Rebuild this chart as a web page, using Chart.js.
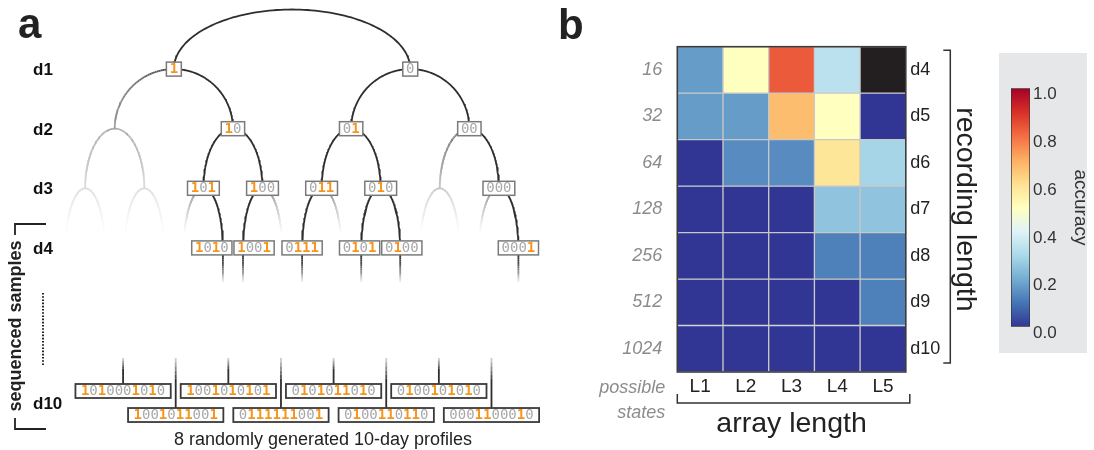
<!DOCTYPE html>
<html>
<head>
<meta charset="utf-8">
<script src="https://cdn.jsdelivr.net/npm/chart.js@4.4.1/dist/chart.umd.min.js"></script>
<style>
  html, body { margin: 0; padding: 0; background: #fff; }
  #wrap { position: relative; width: 1094px; height: 450px; overflow: hidden; }
  canvas { position: absolute; }
  #treeCanvas { left: 0; top: 0; }
  #heatCanvas { left: 540px; top: 0; }
  #barCanvas { left: 999px; top: 53px; }
</style>
</head>
<body>
<div id="wrap">
  <canvas id="treeCanvas" width="540" height="450"></canvas>
  <canvas id="heatCanvas" width="554" height="450"></canvas>
  <canvas id="barCanvas" width="95" height="300"></canvas>
</div>
<script>
// ---------------- data ----------------
// Panel a: sampled 10-day binary profiles (left to right, alternating rows)
const sampledProfiles = [
  '1010001010', '1001011001', '1001010101', '0111111001',
  '0101011010', '0100110110', '0100101010', '0001100010'
];
const depthLabels = ['d1', 'd2', 'd3', 'd4'];
const finalDepthLabel = 'd10';
const profileCaption = '8 randomly generated 10-day profiles';
const samplesLabel = 'sequenced samples';

// Panel b: accuracy per recording length (rows) and array length (columns)
const arrayLengths = ['L1', 'L2', 'L3', 'L4', 'L5'];
const recordingLengths = ['d4', 'd5', 'd6', 'd7', 'd8', 'd9', 'd10'];
const possibleStates = ['16', '32', '64', '128', '256', '512', '1024'];
const accuracyD4  = [0.17, 0.50, 0.83, 0.33, null];
const accuracyD5  = [0.17, 0.17, 0.67, 0.50, 0.00];
const accuracyD6  = [0.00, 0.14, 0.14, 0.58, 0.29];
const accuracyD7  = [0.00, 0.00, 0.00, 0.25, 0.25];
const accuracyD8  = [0.00, 0.00, 0.00, 0.12, 0.12];
const accuracyD9  = [0.00, 0.00, 0.00, 0.00, 0.12];
const accuracyD10 = [0.00, 0.00, 0.00, 0.00, 0.00];
const accuracyRange = [0, 1];

// ---------------- styling ----------------
const FONT = "'Liberation Sans', Arial, sans-serif";
const MONO = "'DejaVu Sans Mono', monospace";
const INK = '#2e2e2e';
const ONE_COLOR = '#f7941d';
const ZERO_COLOR = '#a8a8a8';
Chart.defaults.font.family = FONT;

// RdYlBu reversed colour scale
const scaleColors = ['#313695', '#4575b4', '#74add1', '#abd9e9', '#e0f3f8', '#ffffbf',
                     '#fee090', '#fdae61', '#f46d43', '#d73027', '#a50026'];
function hexRgb(h) { return [1, 3, 5].map(i => parseInt(h.slice(i, i + 2), 16)); }
function accuracyColor(v) {
  if (v === null) return '#231f20';
  const t = Math.max(0, Math.min(1, v)) * (scaleColors.length - 1);
  const i = Math.min(Math.floor(t), scaleColors.length - 2);
  const f = t - i;
  const a = hexRgb(scaleColors[i]), b = hexRgb(scaleColors[i + 1]);
  const c = a.map((x, k) => Math.round(x + (b[k] - x) * f));
  return `rgb(${c[0]},${c[1]},${c[2]})`;
}

// ---------------- panel a: recording tree ----------------
const TREE_DEPTH = 4;
const FADE_END = 3.85;                // depth where unsampled branches vanish
const FADE_CURVE = 0.6;
const CHILD_SPREAD = 0.33;            // half gap between sibling leaves at depth 4
const flippedBranches = ['000'];      // branch drawn with its children swapped
const X_ORIGIN = 85.2, X_UNIT = 59.1; // canvas mapping of the tree x axis
const Y_ORIGIN = 9.5, Y_UNIT = 59.6;  // canvas mapping of the depth axis
const CANVAS_A = { w: 540, h: 450 };
const BOX_H = 14, CHAR_ADV = 8.43;
const PROFILE_SLOT0 = 0.641, PROFILE_STEP = 0.8905;
const PROFILE_ROWS = [6.401, 6.804];  // depth-axis positions of the two profile rows
const PROFILE_LINE_TOP = 5.847;
const LEAF_LINE_END = 4.572;
const FINAL_LABEL_DEPTH = 6.62;

const activeNodes = new Set(['']);
sampledProfiles.forEach(p => {
  for (let k = 1; k <= TREE_DEPTH; k++) activeNodes.add(p.slice(0, k));
});

function nodeX(s) {
  if (s.length === 3) return 7 - parseInt(s, 2);
  if (s.length === 4) {
    const parent = s.slice(0, 3);
    const side = (s[3] === '1' ? -1 : 1) * (flippedBranches.includes(parent) ? -1 : 1);
    return nodeX(parent) + side * CHILD_SPREAD;
  }
  return (nodeX(s + '1') + nodeX(s + '0')) / 2;
}
function lastActiveDepth(s) {
  for (let k = s.length; k >= 0; k--) if (activeNodes.has(s.slice(0, k))) return k;
  return 0;
}
function grey(t) {
  t = Math.max(0, Math.min(1, t));
  const c = Math.round(46 + (255 - 46) * t);
  return `rgb(${c},${c},${c})`;
}
function lineDataset(points, colors, order) {
  return {
    data: points, order,
    borderColor: INK, borderWidth: 1.8, pointRadius: 0, fill: false, tension: 0,
    segment: { borderColor: c => colors[c.p0DataIndex] }
  };
}

const treeDatasets = [];
const STEPS = 48;
// every node up to depth 3 opens a half-ellipse towards each of its two children
const parents = [''];
for (let d = 1; d < TREE_DEPTH; d++) {
  for (let v = 0; v < (1 << d); v++) parents.push(v.toString(2).padStart(d, '0'));
}
parents.forEach(parent => {
  ['1', '0'].forEach(bit => {
    const child = parent + bit;
    const xp = nodeX(parent), xc = nodeX(child), Lp = parent.length;
    const solid = activeNodes.has(child);
    const La = lastActiveDepth(child);
    const pts = [], cols = [];
    for (let i = 0; i <= STEPS; i++) {
      const s = i / STEPS, th = s * Math.PI / 2;
      pts.push({ x: xp + (xc - xp) * Math.sin(th), y: Lp + 1 - Math.cos(th) });
      // unsampled branches fade out along the path from the last sampled node
      const f = Math.max(0, (Lp - La + s) / (FADE_END - La));
      cols.push(solid ? INK : grey(Math.pow(f, FADE_CURVE)));
    }
    treeDatasets.push(lineDataset(pts, cols, solid ? 1 : 2));
  });
});

// depth-4 nodes that were sampled
const leafNodes = [...activeNodes].filter(s => s.length === TREE_DEPTH)
  .sort((a, b) => nodeX(a) - nodeX(b));
// short stems below each sampled depth-4 node
leafNodes.forEach(s => {
  const x = nodeX(s), top = TREE_DEPTH + (BOX_H / 2) / Y_UNIT;
  const pts = [], cols = [];
  for (let i = 0; i <= 12; i++) {
    const L = top + (LEAF_LINE_END - top) * i / 12;
    pts.push({ x, y: L });
    cols.push(grey(Math.pow(i / 12, 1.4)));
  }
  treeDatasets.push(lineDataset(pts, cols, 1));
});
// stems above each full profile
sampledProfiles.forEach((p, i) => {
  const x = PROFILE_SLOT0 + i * PROFILE_STEP;
  const end = PROFILE_ROWS[i % 2] - (BOX_H / 2) / Y_UNIT;
  const pts = [], cols = [];
  for (let k = 0; k <= 12; k++) {
    pts.push({ x, y: PROFILE_LINE_TOP + (end - PROFILE_LINE_TOP) * k / 12 });
    cols.push(grey(0.75 * Math.max(0, 1 - k / 5)));
  }
  treeDatasets.push(lineDataset(pts, cols, 1));
});

function drawCode(ctx, code, cx, cy, pad, stroke, lw) {
  const w = code.length * CHAR_ADV + pad;
  ctx.fillStyle = '#fff';
  ctx.fillRect(cx - w / 2, cy - BOX_H / 2, w, BOX_H);
  ctx.lineWidth = lw; ctx.strokeStyle = stroke;
  ctx.strokeRect(cx - w / 2, cy - BOX_H / 2, w, BOX_H);
  let x = cx - code.length * CHAR_ADV / 2;
  ctx.textAlign = 'left'; ctx.textBaseline = 'middle';
  for (const ch of code) {
    ctx.font = (ch === '1' ? 'bold ' : '') + '14px ' + MONO;
    ctx.fillStyle = ch === '1' ? ONE_COLOR : ZERO_COLOR;
    ctx.fillText(ch, x, cy + 0.5);
    x += CHAR_ADV;
  }
}

const treeDecor = {
  id: 'treeDecor',
  afterDatasetsDraw(chart) {
    const { ctx, scales: { x: sx, y: sy } } = chart;
    ctx.save();
    // node boxes at depth 1-3
    [...activeNodes].filter(s => s.length >= 1 && s.length < TREE_DEPTH).forEach(s => {
      drawCode(ctx, s, sx.getPixelForValue(nodeX(s)), sy.getPixelForValue(s.length), 6.5, '#7a7a7a', 1.5);
    });
    // depth-4 boxes, nudged apart where neighbours collide
    const w4 = TREE_DEPTH * CHAR_ADV + 6.5, gap = 2;
    const xs = leafNodes.map(s => sx.getPixelForValue(nodeX(s)));
    for (let i = 0; i < xs.length - 1; i++) {
      const d = xs[i + 1] - xs[i];
      if (d < w4 + gap) { const m = (w4 + gap - d) / 2; xs[i] -= m; xs[i + 1] += m; }
    }
    leafNodes.forEach((s, i) => drawCode(ctx, s, xs[i], sy.getPixelForValue(TREE_DEPTH), 6.5, '#7a7a7a', 1.5));
    // full profiles
    sampledProfiles.forEach((p, i) => {
      drawCode(ctx, p, sx.getPixelForValue(PROFILE_SLOT0 + i * PROFILE_STEP),
               sy.getPixelForValue(PROFILE_ROWS[i % 2]), 11, '#3a3a3a', 1.8);
    });
    // depth labels
    ctx.fillStyle = '#111'; ctx.font = 'bold 17px ' + FONT;
    ctx.textAlign = 'left'; ctx.textBaseline = 'middle';
    depthLabels.forEach((lab, i) => ctx.fillText(lab, 33, sy.getPixelForValue(i + 1) + 1.5));
    ctx.fillText(finalDepthLabel, 33, sy.getPixelForValue(FINAL_LABEL_DEPTH));
    // caption
    ctx.fillStyle = '#222'; ctx.font = '18px ' + FONT; ctx.textAlign = 'center';
    ctx.fillText(profileCaption, 323, 440);
    // panel letter
    ctx.font = 'bold 42px ' + FONT; ctx.textAlign = 'left'; ctx.textBaseline = 'alphabetic';
    ctx.fillStyle = '#222';
    ctx.fillText('a', 18, 38);
    // sequenced samples bracket
    ctx.strokeStyle = '#222'; ctx.lineWidth = 1.8;
    ctx.beginPath();
    ctx.moveTo(46, 224); ctx.lineTo(15, 224); ctx.lineTo(15, 235);
    ctx.moveTo(15, 418); ctx.lineTo(15, 429); ctx.lineTo(46, 429);
    ctx.stroke();
    ctx.save();
    ctx.translate(16, 326); ctx.rotate(-Math.PI / 2);
    ctx.font = 'bold 18px ' + FONT; ctx.textAlign = 'center'; ctx.textBaseline = 'middle';
    ctx.fillStyle = '#222';
    ctx.fillText(samplesLabel, 0, 0);
    ctx.restore();
    // dotted continuation between d4 and d10
    ctx.setLineDash([1.6, 1.6]); ctx.lineWidth = 2;
    ctx.beginPath(); ctx.moveTo(43, 293); ctx.lineTo(43, 366); ctx.stroke();
    ctx.restore();
  }
};

new Chart(document.getElementById('treeCanvas'), {
  type: 'line',
  data: { datasets: treeDatasets },
  options: {
    responsive: false, animation: false, events: [],
    layout: { padding: 0 },
    plugins: { legend: { display: false }, tooltip: { enabled: false } },
    scales: {
      x: { type: 'linear', display: false,
           min: -X_ORIGIN / X_UNIT, max: (CANVAS_A.w - X_ORIGIN) / X_UNIT },
      y: { type: 'linear', display: false, reverse: true,
           min: -Y_ORIGIN / Y_UNIT, max: (CANVAS_A.h - Y_ORIGIN) / Y_UNIT }
    }
  },
  plugins: [treeDecor]
});

// ---------------- panel b: accuracy heatmap ----------------
const accuracyRows = [accuracyD4, accuracyD5, accuracyD6, accuracyD7, accuracyD8, accuracyD9, accuracyD10];

const heatDecor = {
  id: 'heatDecor',
  afterDraw(chart) {
    const { ctx, chartArea: a } = chart;
    ctx.save();
    // outer frame
    ctx.strokeStyle = '#3c3c3c'; ctx.lineWidth = 1.6;
    ctx.strokeRect(a.left, a.top, a.right - a.left, a.bottom - a.top);
    // recording-length bracket
    ctx.strokeStyle = '#333'; ctx.lineWidth = 1.5;
    const bx = a.right + 44.5;
    ctx.beginPath();
    ctx.moveTo(bx - 7, a.top + 3.5); ctx.lineTo(bx, a.top + 3.5);
    ctx.lineTo(bx, a.bottom - 9); ctx.lineTo(bx - 7, a.bottom - 9);
    ctx.stroke();
    // array-length bracket
    const by = 403;
    ctx.beginPath();
    ctx.moveTo(a.left, by - 9); ctx.lineTo(a.left, by);
    ctx.lineTo(a.right + 4, by); ctx.lineTo(a.right + 4, by - 9);
    ctx.stroke();
    // possible states caption
    ctx.fillStyle = '#8c8c8c'; ctx.font = 'italic 18px ' + FONT;
    ctx.textAlign = 'right'; ctx.textBaseline = 'middle';
    ctx.fillText('possible', a.left - 12, 387.5);
    ctx.fillText('states', a.left - 12, 413);
    // panel letter
    ctx.fillStyle = '#222'; ctx.font = 'bold 42px ' + FONT;
    ctx.textAlign = 'left'; ctx.textBaseline = 'alphabetic';
    ctx.fillText('b', 18, 39);
    ctx.restore();
  }
};

const heatTicks = s => { s.ticks = recordingLengths.map((_, i) => ({ value: i + 0.5 })); };

new Chart(document.getElementById('heatCanvas'), {
  type: 'bar',
  data: {
    labels: arrayLengths,
    datasets: recordingLengths.map((name, r) => ({
      label: name,
      data: arrayLengths.map(() => [r, r + 1]),
      backgroundColor: accuracyRows[r].map(accuracyColor),
      borderColor: '#c8c8c8', borderWidth: 1, borderSkipped: false,
      barPercentage: 1, categoryPercentage: 1, grouped: false
    }))
  },
  options: {
    responsive: false, animation: false, events: [],
    layout: { padding: { left: 0, right: 112.4, top: 46.7, bottom: 8.4 } },
    plugins: { legend: { display: false }, tooltip: { enabled: false } },
    scales: {
      x: {
        position: 'bottom', offset: true,
        grid: { display: false, drawTicks: false }, border: { display: false },
        ticks: { color: '#222', font: { size: 19 }, padding: 3, maxRotation: 0 },
        title: { display: true, text: 'array length', color: '#222', font: { size: 28.5 }, padding: 0 },
        afterFit: s => { s.height = 69.6; }
      },
      y: {
        position: 'left', min: 0, max: 7, reverse: true,
        grid: { display: false, drawTicks: false }, border: { display: false },
        afterBuildTicks: heatTicks,
        ticks: { autoSkip: false, callback: (v, i) => possibleStates[i],
                 color: '#8c8c8c', font: { size: 18, style: 'italic' }, padding: 15 },
        afterFit: s => { s.width = 137.3; }
      },
      y2: {
        position: 'right', min: 0, max: 7, reverse: true,
        grid: { display: false, drawTicks: false }, border: { display: false },
        afterBuildTicks: heatTicks,
        ticks: { autoSkip: false, callback: (v, i) => recordingLengths[i],
                 color: '#222', font: { size: 18 }, padding: 4.5 },
        title: { display: true, text: 'recording length', color: '#222', font: { size: 28.5 }, padding: 0 },
        afterFit: s => { s.width = 75.8; }
      }
    }
  },
  plugins: [heatDecor]
});

// ---------------- colour bar ----------------
const barBackground = {
  id: 'barBackground',
  beforeDraw(chart) {
    const { ctx } = chart;
    ctx.save();
    ctx.fillStyle = '#e6e7e8';
    ctx.fillRect(0, 0, 88, chart.height);
    ctx.restore();
  }
};

new Chart(document.getElementById('barCanvas'), {
  type: 'bar',
  data: {
    labels: ['accuracy'],
    datasets: [{
      data: [accuracyRange],
      backgroundColor: c => {
        const { chart } = c;
        if (!chart.chartArea) return scaleColors[0];
        const y = chart.scales.y;
        const g = chart.ctx.createLinearGradient(0, y.getPixelForValue(accuracyRange[0]), 0, y.getPixelForValue(accuracyRange[1]));
        scaleColors.forEach((col, i) => g.addColorStop(i / (scaleColors.length - 1), col));
        return g;
      },
      borderColor: '#333', borderWidth: 1, borderSkipped: false,
      barPercentage: 1, categoryPercentage: 1
    }]
  },
  options: {
    responsive: false, animation: false, events: [],
    layout: { padding: { left: 12, right: 2.2, top: 35.3, bottom: 26.3 } },
    plugins: { legend: { display: false }, tooltip: { enabled: false } },
    scales: {
      x: { display: false },
      y: {
        position: 'right', min: 0, max: 1,
        grid: { display: false, drawTicks: false }, border: { display: false },
        ticks: { stepSize: 0.2, callback: v => v.toFixed(1), color: '#333',
                 font: { size: 17 }, padding: 3, labelOffset: 6.5 },
        title: { display: true, text: 'accuracy', color: '#333', font: { size: 19 }, padding: 0 },
        afterFit: s => { s.width = 61.8; }
      }
    }
  },
  plugins: [barBackground]
});
</script>
</body>
</html>
